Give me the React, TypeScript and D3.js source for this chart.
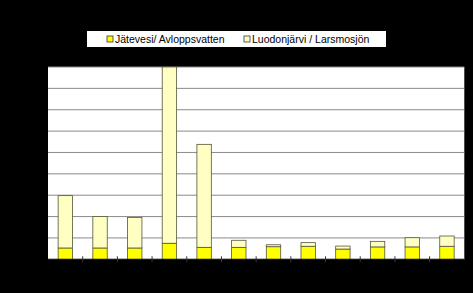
import React from "react";
import * as d3 from "d3";

const categories = ["1", "2", "3", "4", "5", "6", "7", "8", "9", "10", "11", "12"];
const seriesNames = ["Jätevesi/ Avloppsvatten", "Luodonjärvi / Larsmosjön"];
const wasteWater = [5.3, 5.3, 5.3, 7.5, 5.6, 5.6, 5.9, 6.1, 4.8, 5.8, 5.8, 6.1];
const lake = [24.5, 14.7, 14.3, 82.5, 48.2, 3.3, 0.9, 1.7, 1.4, 2.6, 4.3, 4.8];
const yTicks = [0, 10, 20, 30, 40, 50, 60, 70, 80, 90];
const colors = ["#FFFF00", "#FFFFC4"];

export default function App() {
  const W = 473, H = 293;
  const left = 48, right = 464.3, top = 67, bottom = 259.3;
  const x = d3.scaleBand<string>().domain(categories).range([left, right]).paddingInner(0.585).paddingOuter(0.2925);
  const band = d3.scaleBand<string>().domain(categories).range([left, right]);
  const y = d3.scaleLinear().domain([0, 90]).range([bottom, top]);
  const stackData = categories.map((c, i) => ({ c, a: wasteWater[i], b: lake[i] }));
  const stacked = d3.stack<any>().keys(["a", "b"])(stackData);

  return (
    <svg width={W} height={H} style={{ position: "fixed", left: 0, top: 0, background: "#000" }}>
      <rect x={0} y={0} width={W} height={H} fill="#000" />
      <rect x={left} y={top} width={right - left} height={bottom - top} fill="#fff" />
      {yTicks.map((t) => (
        <line key={t} x1={left} x2={right} y1={y(t)} y2={y(t)} stroke="#8a8a8a" strokeWidth={1} />
      ))}
      {stacked.map((s, si) =>
        s.map((d, i) => (
          <rect
            key={si + "-" + i}
            x={x(categories[i])}
            width={x.bandwidth()}
            y={y(d[1])}
            height={y(d[0]) - y(d[1])}
            fill={colors[si]}
            stroke="#55553a"
            strokeWidth={0.8}
          />
        ))
      )}
      <line x1={left} x2={right} y1={bottom} y2={bottom} stroke="#000" strokeWidth={1} />
      {categories.slice(1).map((c) => (
        <line key={c} x1={band(c)} x2={band(c)} y1={bottom - 3} y2={bottom + 3} stroke="#333" strokeWidth={1} />
      ))}
      <g>
        <rect x={87} y={31} width={299} height={16} fill="#fff" />
        <rect x={107} y={36} width={6} height={6} fill={colors[0]} stroke="#333" strokeWidth={0.8} />
        <text x={115} y={43} fontFamily="Liberation Sans, Arial, sans-serif" fontSize={10.5} fill="#000">{seriesNames[0]}</text>
        <rect x={244} y={36} width={6} height={6} fill={colors[1]} stroke="#333" strokeWidth={0.8} />
        <text x={252} y={43} fontFamily="Liberation Sans, Arial, sans-serif" fontSize={10.5} fill="#000">{seriesNames[1]}</text>
      </g>
    </svg>
  );
}
